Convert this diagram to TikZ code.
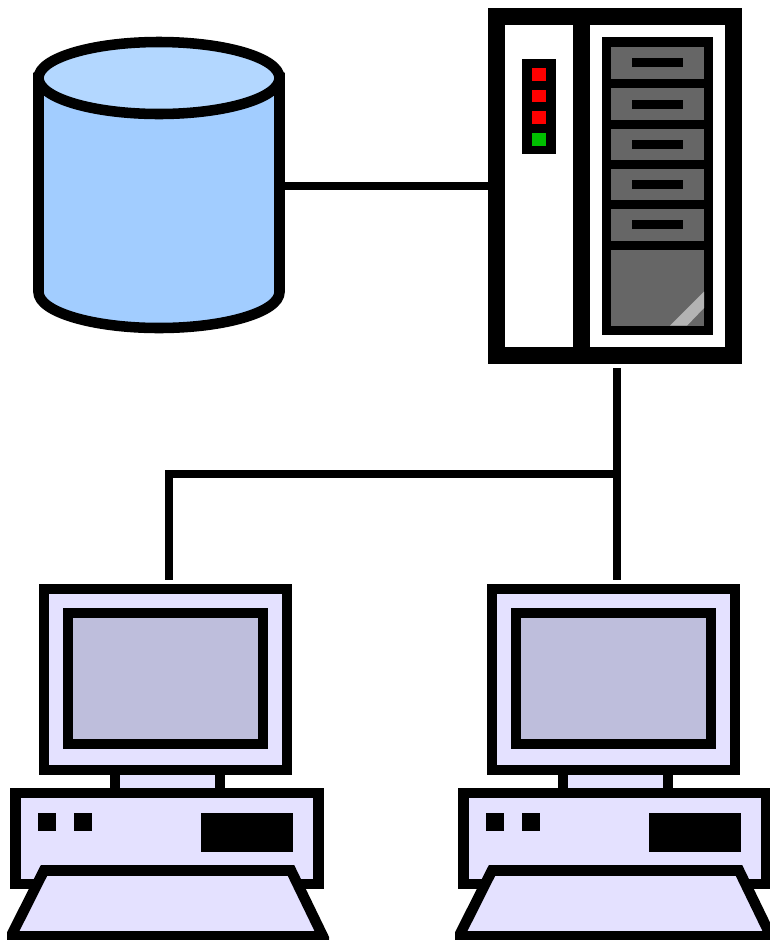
\documentclass[tikz,border=0pt]{standalone}
\definecolor{dbside}{RGB}{162,205,255}
\definecolor{dbtop}{RGB}{179,215,255}
\definecolor{pcfill}{RGB}{228,225,255}
\definecolor{screenfill}{RGB}{190,190,220}
\definecolor{drawerfill}{RGB}{102,102,102}
\definecolor{shinefill}{RGB}{179,179,179}
\definecolor{ledgreen}{RGB}{0,192,0}
\tikzset{
  frame/.style={draw,line width=7.9pt,line join=miter,fill=pcfill},
  link/.style={line width=6pt},
  solid box/.style={fill=black},
  drawer/.style={fill=drawerfill},
}
\begin{document}
\begin{tikzpicture}[x=0.75pt,y=0.75pt,yscale=-1]
\useasboundingbox (0,0) rectangle (770,940);

%Database
\node (dbase) at (159,186) [minimum width=186pt,minimum height=222pt,inner sep=0pt,outer sep=0pt] {};
\draw [line width=7.9pt,fill=dbside] (38.5,78) -- (38.5,292) arc [start angle=180,end angle=0,x radius=120.5,y radius=36] -- (279.5,78) -- cycle;
\draw [line width=7.9pt,fill=dbtop] (159,78) ellipse [x radius=120.5,y radius=36];

%Server cabinet
\node (server) at (615,186) [draw,line width=12.75pt,fill=white,minimum width=177.75pt,minimum height=254.25pt,inner sep=0pt,outer sep=6.375pt] {};
\fill (573,16) rectangle (590,356);
\node (ledpanel) at (539,106.5) [solid box,minimum width=25.5pt,minimum height=71.5pt,inner sep=0pt] {};
\foreach \ypos/\ledcolor in {74.5/red,96/red,117.5/red,139.5/ledgreen}
  \fill [\ledcolor] (532,\ypos-6.3) rectangle (546,\ypos+6.3);

%Drawer rack
\node (rack) at (657.5,186) [solid box,minimum width=83.25pt,minimum height=223.5pt,inner sep=0pt] {};
\foreach \ytop/\ybot in {46.7/79,88/120,129/160,169/199.5,209/240.7}{
  \fill [drawer] (611,\ytop) rectangle (704,\ybot);
  \fill (632,{(\ytop+\ybot)/2-4.5}) rectangle (683,{(\ytop+\ybot)/2+4.5});
}
\fill [drawer] (611,250) rectangle (704,325.7);
\fill [shinefill] (670,325.7) -- (687,325.7) -- (704,308) -- (704,291.7) -- cycle;

%Computers
\foreach \xoff/\pcname in {0/pcleft,448/pcright}{
\begin{scope}[xshift=\xoff*0.75pt]
  \draw [frame] (115,770) rectangle (220,800);
  \node (\pcname) at (165.5,679.5) [frame,minimum width=182pt,minimum height=136pt,inner sep=0pt,outer sep=0pt] {};
  \draw [line width=7.9pt,fill=screenfill] (68,613) rectangle (263,744);
  \draw [frame] (15.5,793) rectangle (318.5,884);
  \fill (38,813) rectangle (56,831);
  \fill (74,813) rectangle (92,831);
  \fill (201,813) rectangle (293,852);
  \begin{scope}
    \clip (7,850) rectangle (329,940);
    \draw [frame] (44,870.5) -- (291,870.5) -- (323,936.5) -- (10.8,936.5) -- cycle;
  \end{scope}
\end{scope}
}

%Connectors
\coordinate (hub) at (617,474);
\coordinate (srvtap) at (617,368);
\coordinate (lefttap) at (169,580);
\coordinate (righttap) at (617,580);
\draw [link] (dbase.east) -- (server.west);
\draw [link] (srvtap) -- (righttap);
\draw [link,line join=miter] (hub) -| (lefttap);

\end{tikzpicture}
\end{document}
